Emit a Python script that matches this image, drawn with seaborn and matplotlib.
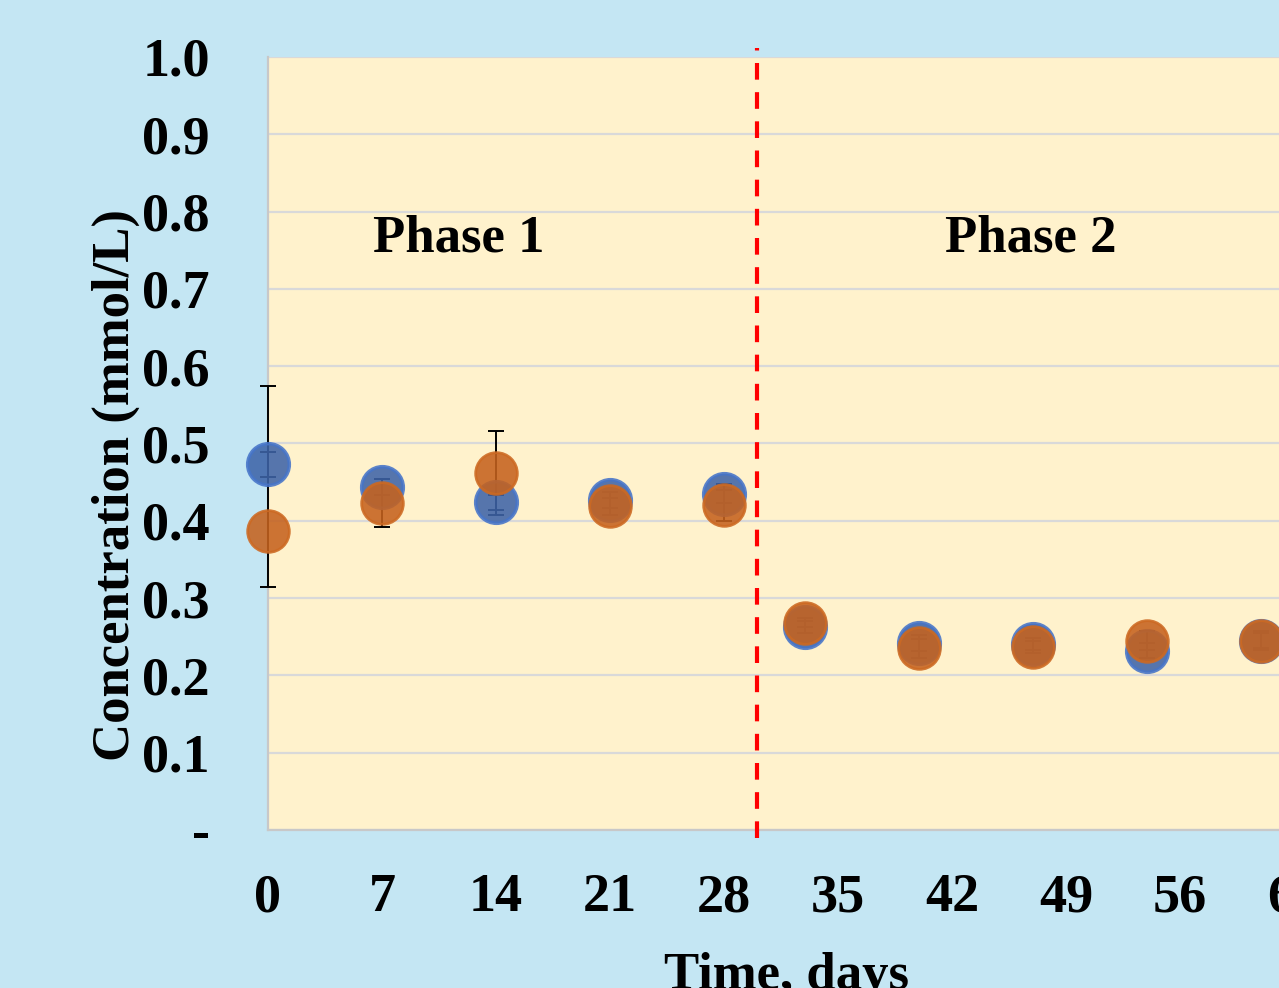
import numpy as np
import pandas as pd
import matplotlib
matplotlib.use('Agg')
import matplotlib.pyplot as plt
import seaborn as sns

# Sampling days and measured concentrations (mmol/L)
days = [0, 7, 14, 21, 28, 33, 40, 47, 54, 61]
series_a = [0.473, 0.444, 0.424, 0.427, 0.435, 0.263, 0.242, 0.241, 0.232, 0.245]
series_b = [0.387, 0.423, 0.462, 0.419, 0.420, 0.268, 0.235, 0.237, 0.245, 0.245]

# Error bars (lower, upper)
err_a_low = [0.016, 0.010, 0.010, 0.010, 0.012, 0.008, 0.010, 0.008, 0.010, 0.010]
err_a_high = [0.016, 0.010, 0.010, 0.010, 0.012, 0.008, 0.010, 0.008, 0.010, 0.010]
err_b_low = [0.073, 0.031, 0.054, 0.011, 0.020, 0.006, 0.012, 0.008, 0.012, 0.012]
err_b_high = [0.187, 0.031, 0.054, 0.011, 0.020, 0.006, 0.012, 0.008, 0.012, 0.012]

x_ticks = [0, 7, 14, 21, 28, 35, 42, 49, 56, 63]
y_ticks = [0.0, 0.1, 0.2, 0.3, 0.4, 0.5, 0.6, 0.7, 0.8, 0.9, 1.0]
y_labels = ['-', '0.1', '0.2', '0.3', '0.4', '0.5', '0.6', '0.7', '0.8', '0.9', '1.0']
phase_split = 30
phase_labels = ['Phase 1', 'Phase 2']

df = pd.DataFrame({
    'day': days * 2,
    'conc': series_a + series_b,
    'series': ['A'] * len(days) + ['B'] * len(days),
})

sns.set_style('white')
plt.rcParams['font.family'] = ['Liberation Serif', 'DejaVu Serif']
plt.rcParams['font.weight'] = 'bold'
for key in ['text.color', 'axes.labelcolor', 'xtick.color', 'ytick.color']:
    plt.rcParams[key] = 'black'

fig = plt.figure(figsize=(12.79, 9.88), dpi=100)
fig.patch.set_facecolor('#C4E6F3')
ax = fig.add_axes([268 / 1279, 158 / 988, (1294 - 268) / 1279, 773 / 988])
ax.set_facecolor('#FFF2CC')

# error bars underneath the markers (but above the spine)
for vals, lo, hi in [(series_a, err_a_low, err_a_high), (series_b, err_b_low, err_b_high)]:
    eb = ax.errorbar(days, vals, yerr=[lo, hi], fmt='none', ecolor='black',
                     elinewidth=1.4, capsize=6, capthick=1.4, zorder=3)
    for art in eb.lines[1] + eb.lines[2]:
        art.set_clip_on(False)

sns.scatterplot(data=df[df['series'] == 'A'], x='day', y='conc', ax=ax,
                color='#3E64A8', edgecolor='#4674C8', linewidth=2.5,
                s=900, alpha=0.88, zorder=4, legend=False, clip_on=False)
sns.scatterplot(data=df[df['series'] == 'B'], x='day', y='conc', ax=ax,
                color='#C5621E', edgecolor='#CC6922', linewidth=2,
                s=900, alpha=0.88, zorder=5, legend=False, clip_on=False)

ax.set_xlim(0, 63)
ax.set_ylim(0, 1.0)
ax.set_xticks(x_ticks)
ax.set_xticklabels([str(t) for t in x_ticks])
ax.set_yticks(y_ticks)
ax.set_yticklabels(y_labels)
ax.tick_params(axis='x', length=0, pad=31, labelsize=39)
ax.tick_params(axis='y', length=0, pad=42, labelsize=39)

ax.grid(axis='y', color='#D9D9D9', linewidth=1.6, zorder=0)
ax.set_axisbelow(True)
for side in ['top', 'right']:
    ax.spines[side].set_visible(False)
for side in ['left', 'bottom']:
    ax.spines[side].set_color('#C8C8C8')
    ax.spines[side].set_linewidth(1.6)

# phase separator
ax.plot([phase_split, phase_split], [-0.01, 1.012], color='#FF0000',
        linewidth=3, linestyle=(0, (4, 3)), clip_on=False, zorder=6)

ax.text(11.7, 0.765, phase_labels[0], fontsize=38, fontweight='bold',
        ha='center', va='center')
ax.text(46.85, 0.765, phase_labels[1], fontsize=38, fontweight='bold',
        ha='center', va='center')

ax.set_xlabel('Time, days', fontsize=38, fontweight='bold')
ax.set_ylabel('Concentration (mmol/L)', fontsize=38, fontweight='bold')
ax.xaxis.set_label_coords((787 - 268) / (1294 - 268), -0.158)
ax.yaxis.set_label_coords(-0.125, 0.446)

fig.savefig('out.png', dpi=100, facecolor=fig.get_facecolor())
